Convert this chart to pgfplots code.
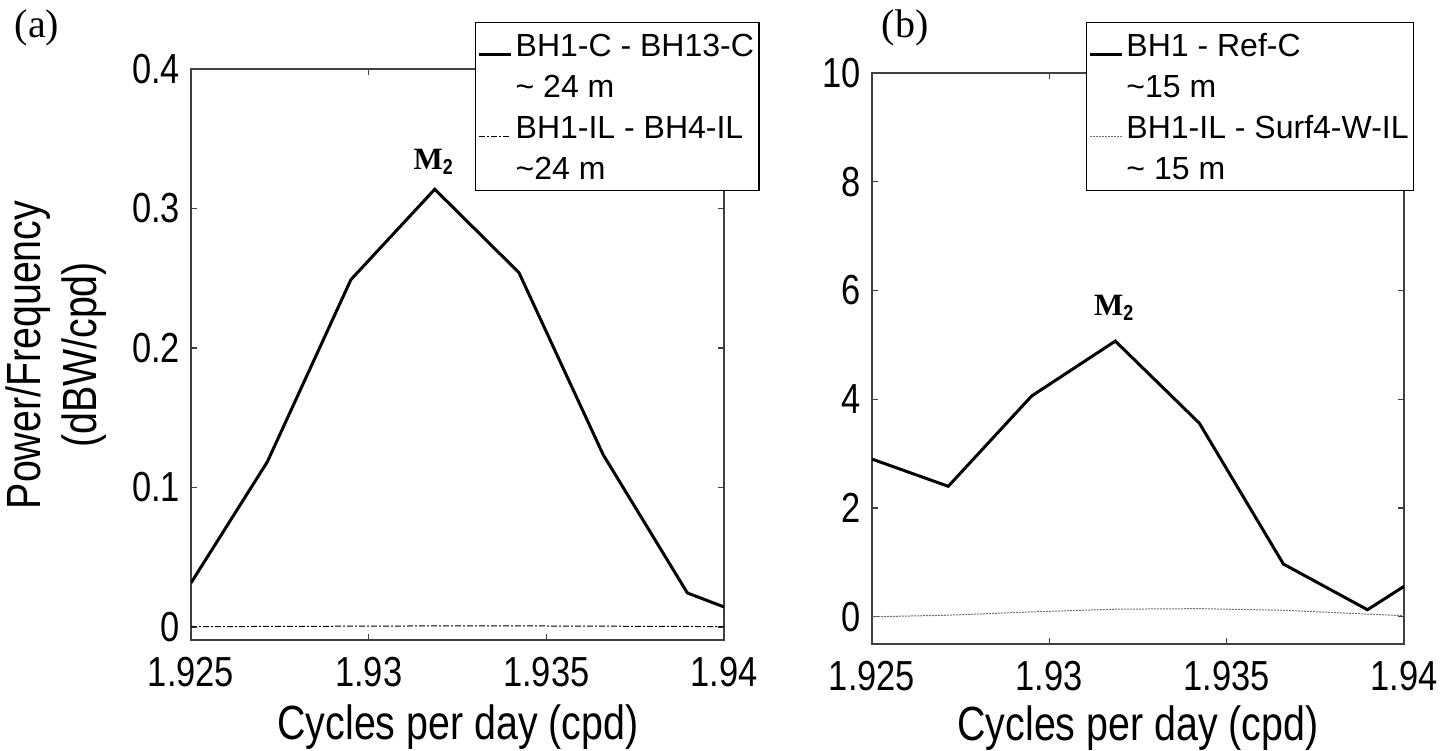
\documentclass[border=0pt]{standalone}
\usepackage{pgfplots}
\pgfplotsset{compat=1.18}
\usepackage{fontspec}
\setmainfont[FakeStretch=0.82]{Liberation Sans}
\newfontfamily\legfam{Liberation Sans}
\newfontfamily\seriffont{Liberation Serif}
\newcommand{\tickfont}{\fontsize{21}{25}\selectfont}
\newcommand{\labfont}{\fontsize{24}{28}\selectfont}
\newcommand{\legfont}{\legfam\fontsize{16}{19}\selectfont}

\pgfplotstableread{
x thick thin
1.925   0.0316 0.0003
1.92715 0.1185 0.0004
1.9295  0.249  0.0006
1.93186 0.3138 0.0008
1.93423 0.254  0.0008
1.9366  0.1235 0.0006
1.93897 0.0244 0.0004
1.94    0.0144 0.0003
}\dataA
\pgfplotstableread{
x thick thin
1.925   2.90 0.00
1.92715 2.40 0.03
1.9295  4.06 0.09
1.93186 5.07 0.14
1.93423 3.56 0.15
1.9366  0.97 0.12
1.93897 0.13 0.05
1.94    0.56 0.02
}\dataB

\pgfplotsset{
  myaxis/.style={
    scale only axis,
    xmin=1.925, xmax=1.94,
    xtick={1.925,1.93,1.935,1.94},
    xticklabels={1.925,1.93,1.935,1.94},
    tick align=inside,
    major tick length=3pt,
    axis line style={line width=0.6pt, black!75},
    tick style={line width=0.6pt, black!75},
    ticklabel style={font=\tickfont},
    xticklabel style={anchor=center, yshift=-16pt},
    yticklabel style={anchor=east, xshift=-2pt},
    legend cell align=left,
    legend style={font=\legfont, draw=black, line width=0.6pt, inner sep=1pt,
      fill=white, row sep=0pt, nodes={text height=14.5pt, text depth=3pt, inner sep=1.5pt}},
    legend image code/.code={\draw[##1] (0pt,-4.5pt) -- (16pt,-4.5pt);},
  }
}

\begin{document}
\begin{tikzpicture}
\useasboundingbox (0,0) rectangle (727.5pt,375pt);
% Panel (a)
\begin{axis}[myaxis,
  at={(95.5pt,55pt)}, anchor=south west,
  width=266.5pt, height=285.5pt,
  ymin=-0.0093, ymax=0.4,
  ytick={0,0.1,0.2,0.3,0.4},
  yticklabels={0,0.1,0.2,0.3,0.4},
  legend style={at={(0.533,1.082)}, anchor=north west},
]
\addplot[black, line width=1.5pt] table[x=x, y=thick] {\dataA};
\addlegendentry{BH1-C - BH13-C}
\addlegendimage{empty legend}
\addlegendentry{\textasciitilde\ 24 m}
\addplot[black, line width=0.5pt, dash pattern=on 3pt off 1pt on 1pt off 1pt] table[x=x, y=thin] {\dataA};
\addlegendentry{BH1-IL - BH4-IL}
\addlegendimage{empty legend}
\addlegendentry{\textasciitilde 24 m}
\node[font=\seriffont\bfseries\fontsize{15.5}{17}\selectfont] at (axis cs:1.93186,0.3333) {M$_{\mathbf{2}}$};
\end{axis}
% Panel (b)
\begin{axis}[myaxis,
  at={(436pt,53pt)}, anchor=south west,
  width=266pt, height=285.5pt,
  ymin=-0.5, ymax=10,
  ytick={0,2,4,6,8,10},
  yticklabels={0,2,4,6,8,10},
  legend style={at={(0.402,1.089)}, anchor=north west},
]
\addplot[black, line width=1.5pt] table[x=x, y=thick] {\dataB};
\addlegendentry{BH1 - Ref-C}
\addlegendimage{empty legend}
\addlegendentry{\textasciitilde 15 m}
\addplot[black!55, line width=0.5pt, dash pattern=on 1pt off 0.5pt] table[x=x, y=thin] {\dataB};
\addlegendentry{BH1-IL - Surf4-W-IL}
\addlegendimage{empty legend}
\addlegendentry{\textasciitilde\ 15 m}
\node[font=\seriffont\bfseries\fontsize{15.5}{17}\selectfont] at (axis cs:1.93186,5.68) {M$_{\mathbf{2}}$};
\end{axis}
% labels
\node[font=\seriffont\fontsize{20}{24}\selectfont] at (18.5pt,361pt) {(a)};
\node[font=\seriffont\fontsize{20}{24}\selectfont] at (452.5pt,361pt) {(b)};
\node[font=\labfont, rotate=90, align=center] at (28pt,197.5pt) {Power/Frequency\\(dBW/cpd)};
\node[font=\labfont] at (229pt,11.5pt) {Cycles per day (cpd)};
\node[font=\labfont] at (569pt,11pt) {Cycles per day (cpd)};
\end{tikzpicture}
\end{document}
